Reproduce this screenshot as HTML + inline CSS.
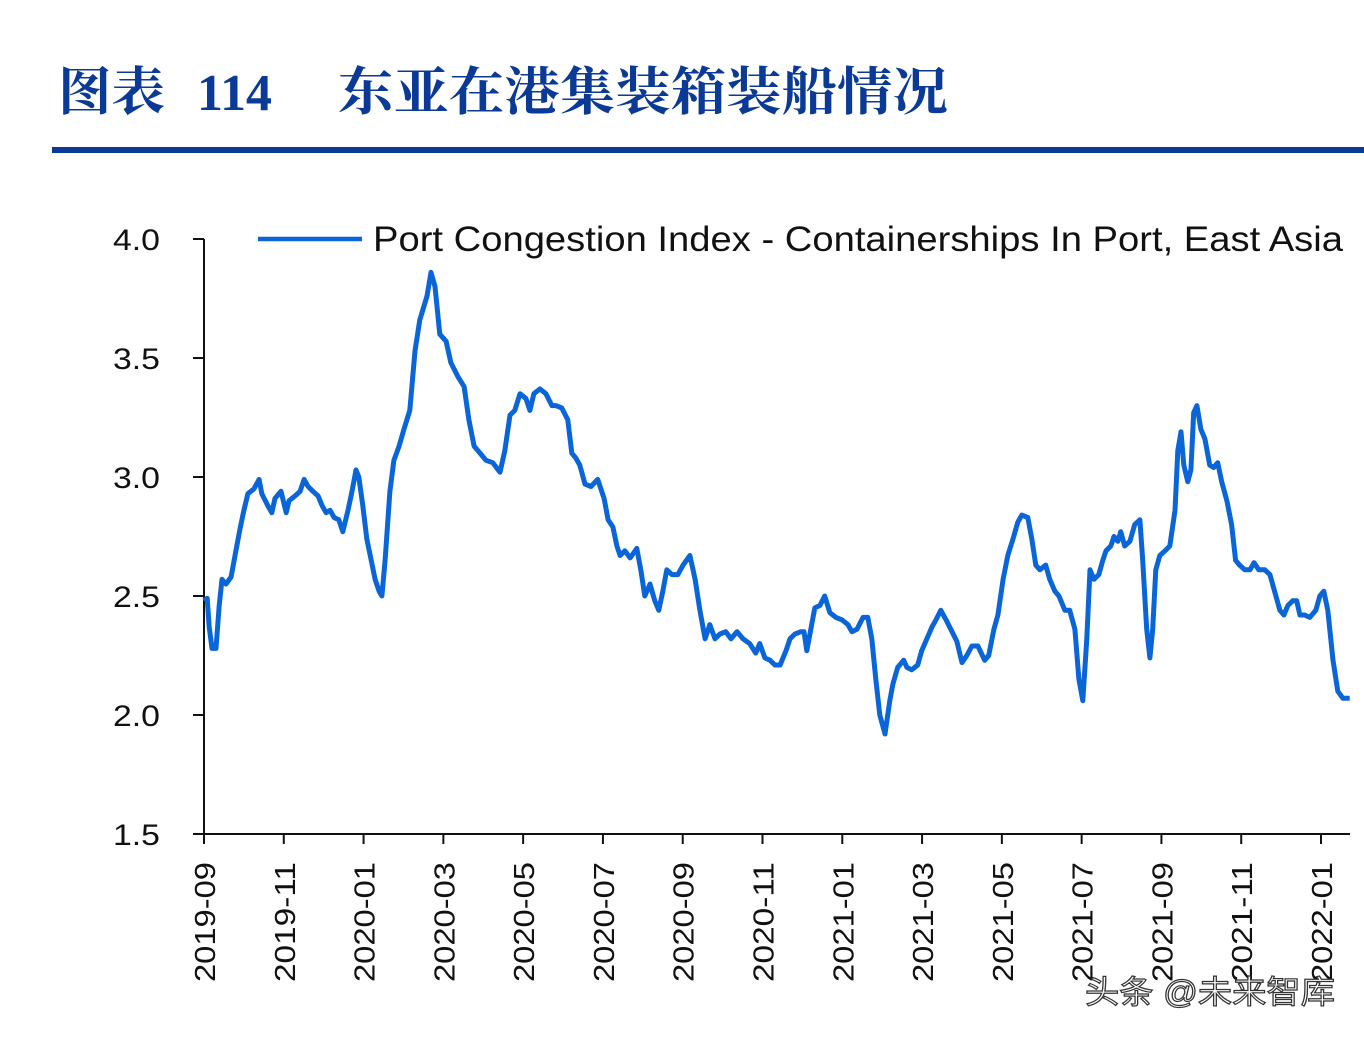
<!DOCTYPE html>
<html><head><meta charset="utf-8">
<style>
body{margin:0;background:#fff;width:1364px;height:1038px;overflow:hidden;}
svg{display:block;}
</style></head>
<body>
<svg id="chart" width="1364" height="1038" xmlns="http://www.w3.org/2000/svg">
<g font-family="'Noto Serif CJK SC','Liberation Serif',serif" font-weight="bold" fill="#0a3a96">
<text x="58" y="110" font-size="52" textLength="107" lengthAdjust="spacingAndGlyphs">图表</text>
<text x="197" y="110" font-size="52" font-family="'Liberation Serif',serif" textLength="75" lengthAdjust="spacingAndGlyphs">114</text>
<text x="338" y="110" font-size="52" textLength="610" lengthAdjust="spacingAndGlyphs">东亚在港集装箱装船情况</text>
</g>
<rect x="52" y="147" width="1312" height="6" fill="#0a3a96"/>
<g id="axes"></g>
<g>
<line x1="258" y1="239" x2="362" y2="239" stroke="#0a66d8" stroke-width="4.5"/>
<text x="373" y="251" font-family="'Liberation Sans',sans-serif" font-size="35" fill="#111" textLength="970" lengthAdjust="spacingAndGlyphs">Port Congestion Index - Containerships In Port, East Asia</text>
</g>
<path id="series" fill="none" stroke="#0a66d8" stroke-width="5" stroke-linejoin="round"/>
<text x="1085" y="1003" font-family="'Liberation Sans','Noto Sans CJK SC',sans-serif" font-size="32" fill="#fff" stroke="#333" stroke-width="1.2" textLength="250" lengthAdjust="spacingAndGlyphs">头条 @未来智库</text>
</svg>
<script>
const months=[0,.08,.13,.20,.30,.38,.45,.55,.68,.80,.90,1.00,1.10,1.25,1.38,1.45,1.60,1.70,1.78,1.93,2.06,2.13,2.28,2.41,2.51,2.61,2.73,2.86,2.96,3.06,3.16,3.26,3.38,3.48,3.61,3.71,3.81,3.88,3.98,4.08,4.19,4.29,4.39,4.46,4.54,4.66,4.76,4.89,5.01,5.16,5.29,5.41,5.59,5.69,5.79,5.91,6.07,6.19,6.37,6.52,6.64,6.77,6.92,7.07,7.24,7.42,7.54,7.67,7.79,7.92,8.07,8.17,8.27,8.42,8.57,8.72,8.82,8.97,9.12,9.22,9.32,9.42,9.55,9.70,9.87,10.03,10.13,10.25,10.35,10.43,10.55,10.68,10.85,10.95,11.05,11.18,11.30,11.40,11.50,11.60,11.73,11.88,12.01,12.18,12.31,12.43,12.56,12.68,12.81,12.93,13.08,13.21,13.36,13.51,13.68,13.83,13.93,14.06,14.19,14.31,14.44,14.59,14.69,14.81,14.96,15.04,15.11,15.21,15.31,15.44,15.56,15.69,15.84,15.99,16.14,16.24,16.37,16.52,16.64,16.74,16.84,16.94,17.07,17.19,17.27,17.39,17.54,17.62,17.74,17.89,17.99,18.12,18.25,18.35,18.47,18.60,18.72,18.87,19.00,19.12,19.25,19.40,19.57,19.67,19.80,19.90,20.03,20.15,20.28,20.40,20.50,20.65,20.75,20.85,20.95,21.10,21.20,21.33,21.43,21.58,21.70,21.83,21.93,22.03,22.13,22.21,22.31,22.43,22.53,22.61,22.73,22.81,22.91,22.98,23.08,23.21,23.33,23.46,23.53,23.63,23.71,23.78,23.86,23.96,24.09,24.21,24.34,24.41,24.49,24.56,24.66,24.74,24.81,24.89,24.99,25.09,25.21,25.31,25.41,25.51,25.64,25.76,25.86,25.96,26.09,26.22,26.32,26.44,26.59,26.72,26.87,26.97,27.07,27.17,27.29,27.39,27.47,27.59,27.72,27.87,27.97,28.07,28.17,28.30,28.42,28.55,28.72];
const values=[2.48,2.49,2.37,2.28,2.28,2.46,2.57,2.55,2.58,2.69,2.78,2.86,2.93,2.95,2.99,2.93,2.88,2.85,2.91,2.94,2.85,2.90,2.92,2.94,2.99,2.96,2.94,2.92,2.88,2.85,2.86,2.83,2.82,2.77,2.86,2.94,3.03,3.00,2.88,2.74,2.65,2.57,2.52,2.50,2.65,2.94,3.07,3.13,3.20,3.28,3.53,3.66,3.76,3.86,3.80,3.60,3.57,3.48,3.42,3.38,3.24,3.13,3.10,3.07,3.06,3.02,3.11,3.26,3.28,3.35,3.33,3.28,3.35,3.37,3.35,3.30,3.30,3.29,3.24,3.10,3.08,3.05,2.97,2.96,2.99,2.91,2.82,2.79,2.71,2.67,2.69,2.66,2.70,2.61,2.50,2.55,2.48,2.44,2.52,2.61,2.59,2.59,2.63,2.67,2.57,2.44,2.32,2.38,2.32,2.34,2.35,2.32,2.35,2.32,2.30,2.26,2.30,2.24,2.23,2.21,2.21,2.27,2.32,2.34,2.35,2.35,2.27,2.36,2.45,2.46,2.50,2.43,2.41,2.40,2.38,2.35,2.36,2.41,2.41,2.32,2.15,2.00,1.92,2.06,2.13,2.20,2.23,2.20,2.19,2.21,2.27,2.32,2.37,2.40,2.44,2.40,2.36,2.31,2.22,2.25,2.29,2.29,2.23,2.25,2.36,2.42,2.57,2.67,2.74,2.81,2.84,2.83,2.74,2.63,2.61,2.63,2.57,2.52,2.50,2.44,2.44,2.36,2.15,2.06,2.32,2.61,2.57,2.59,2.65,2.69,2.71,2.75,2.73,2.77,2.71,2.73,2.80,2.82,2.65,2.36,2.24,2.36,2.61,2.67,2.69,2.71,2.86,3.11,3.19,3.05,2.98,3.03,3.27,3.30,3.20,3.16,3.05,3.04,3.06,2.98,2.90,2.80,2.65,2.63,2.61,2.61,2.64,2.61,2.61,2.59,2.50,2.44,2.42,2.46,2.48,2.48,2.42,2.42,2.41,2.44,2.50,2.52,2.44,2.23,2.10,2.07,2.07];
const yTicks=[4.0,3.5,3.0,2.5,2.0,1.5];
const xTickMonths=[0,2,4,6,8,10,12,14,16,18,20,22,24,26,28];
const xTickLabels=["2019-09","2019-11","2020-01","2020-03","2020-05","2020-07","2020-09","2020-11","2021-01","2021-03","2021-05","2021-07","2021-09","2021-11","2022-01"];

const NS="http://www.w3.org/2000/svg";
const X0=204,X1=1321,Y0=834,Y1=239;
const xs=m=>X0+(X1-X0)*m/28;
const ys=v=>Y0-(Y0-Y1)*(v-1.5)/2.5;
const axes=document.getElementById('axes');
function mk(tag,attrs){const e=document.createElementNS(NS,tag);for(const k in attrs)e.setAttribute(k,attrs[k]);axes.appendChild(e);return e;}
let e=mk('line',{x1:X0,y1:Y1,x2:X0,y2:Y0,stroke:'#111','stroke-width':2});


e=mk('line',{x1:X0,y1:Y0,x2:1350,y2:Y0,stroke:'#111','stroke-width':2});


yTicks.forEach(v=>{
  const y=ys(v);
  let t=mk('line',{x1:X0-11,y1:y,x2:X0,y2:y,stroke:'#111','stroke-width':2});
  
  
  let l=mk('text',{x:160,y:y+11,'text-anchor':'end','font-family':"'Liberation Sans',sans-serif",'font-size':30,fill:'#111',textLength:47,lengthAdjust:'spacingAndGlyphs'});
  l.textContent=v.toFixed(1);
  
  
});
xTickMonths.forEach((m,i)=>{
  const x=xs(m);
  let t=mk('line',{x1:x,y1:Y0,x2:x,y2:Y0+10,stroke:'#111','stroke-width':2});
  
  
  let l=mk('text',{x:0,y:0,'text-anchor':'end','font-family':"'Liberation Sans',sans-serif",'font-size':29,fill:'#111',textLength:120,lengthAdjust:'spacingAndGlyphs',transform:`translate(${x+11},${Y0+28}) rotate(-90)`});
  l.textContent=xTickLabels[i];
  
  
});
let d='';
months.forEach((m,i)=>{d+=(i?'L':'M')+xs(m).toFixed(1)+','+ys(values[i]).toFixed(1);});
document.getElementById('series').setAttribute('d',d);
</script>
</body></html>
